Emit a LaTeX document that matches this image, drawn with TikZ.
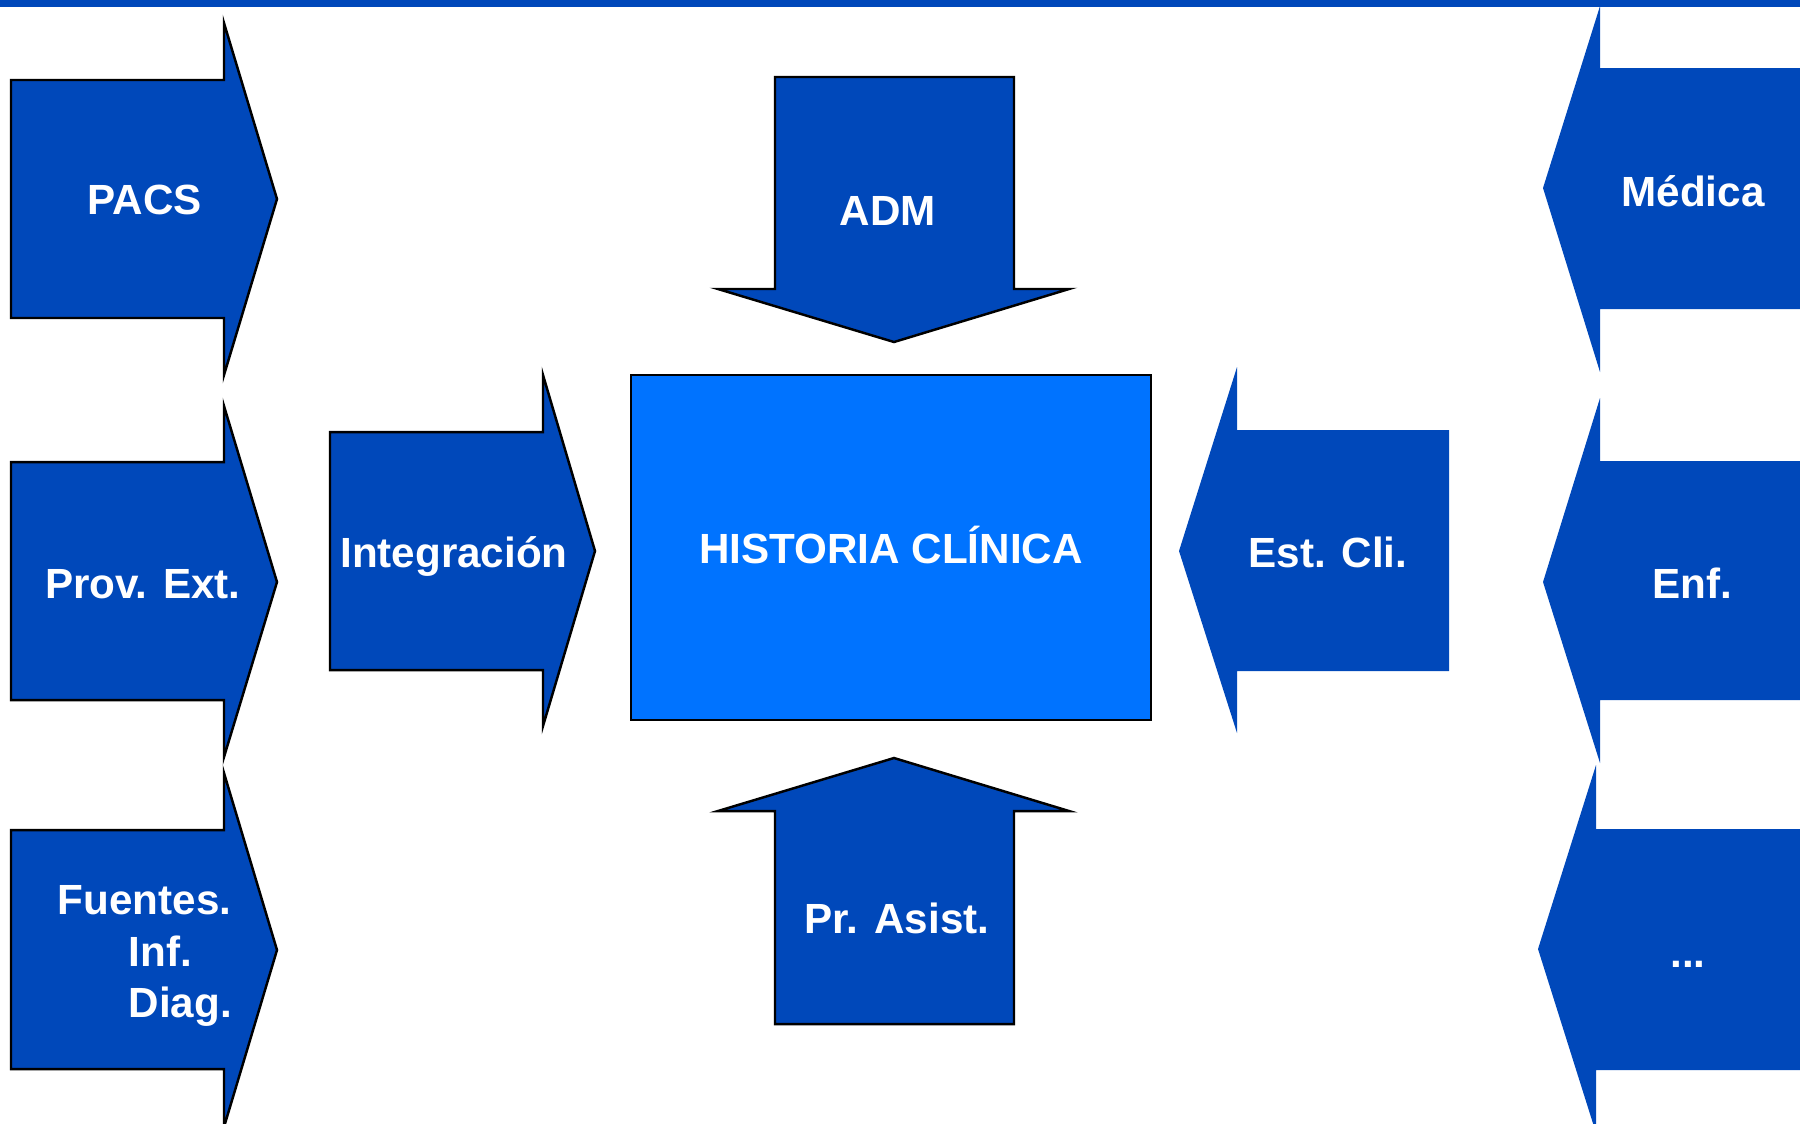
\documentclass[tikz,border=0pt]{standalone}
\usepackage{fontspec}
\setmainfont{Liberation Sans}
\definecolor{arrowblue}{RGB}{0,72,186}
\definecolor{hcblue}{RGB}{0,115,255}

\begin{document}
\begin{tikzpicture}[
		x=0.01cm,
		y=-0.01cm,
		blockarrow/.style={
			fill=arrowblue,
			draw=black,
			line width=0.7pt,
			line join=miter
		},
		barearrow/.style={
			fill=arrowblue
		},
		txtbase/.style={
			text=white,
			font=\bfseries\fontsize{12pt}{14.65pt}\selectfont,
			inner sep=0pt
		},
		txt/.style={
			txtbase,
			text height=0.3cm,
			text depth=0pt
		}
		]
		\clip (0,0) rectangle (1800,1123);
		\fill[white] (0,0) rectangle (1800,1123);
		\fill[arrowblue] (0,0) rectangle (1800,6.5);
		
		% left column
		\draw[blockarrow] (11,80) -- (224,80) -- (224,23) -- (277,199) -- (224,375) -- (224,318) -- (11,318) -- cycle;
		\node[txt] (PACS) at (145,199) {PACS};
		\draw[blockarrow] (11,462) -- (224,462) -- (224,406) -- (277,582) -- (224,757) -- (224,700) -- (11,700) -- cycle;
		\node[txt] (PROV) at (143,583) {Prov. Ext.};
		\draw[blockarrow] (11,830) -- (224,830) -- (224,773) -- (277,950) -- (224,1127) -- (224,1069) -- (11,1069) -- cycle;
		\node[txtbase,align=left,anchor=north west] (FUENTES) at (57,885) {Fuentes.\\\hspace*{0.71cm}Inf.\\\hspace*{0.71cm}Diag.};
		
		\draw[blockarrow] (330,432) -- (543,432) -- (543,375) -- (595,551) -- (543,726) -- (543,670) -- (330,670) -- cycle;
		\node[txt] (INT) at (454,552) {Integración};
		
		% centre
		\draw[fill=hcblue,draw=black,line width=0.7pt] (631,375) rectangle (1151,720);
		\node[txt] (HC) at (891,548) {HISTORIA CLÍNICA};
		
		\draw[blockarrow] (775,77) -- (1014,77) -- (1014,289) -- (1069,289) -- (894,342) -- (718,289) -- (775,289) -- cycle;
		\node[txt] (ADM) at (888,210) {ADM};
		\draw[blockarrow] (775,1024) -- (775,811) -- (718,811) -- (894,758) -- (1069,811) -- (1014,811) -- (1014,1024) -- cycle;
		\node[txt] (ASIST) at (897,918) {Pr. Asist.};
		
		\fill[barearrow] (1449,430) -- (1237,430) -- (1237,367) -- (1179,551) -- (1237,733) -- (1237,671) -- (1449,671) -- cycle;
		\node[txt] (EST) at (1328,552) {Est. Cli.};
		
		% right column
		\fill[barearrow] (1810,68) -- (1600,68) -- (1600,6) -- (1543,188) -- (1600,372) -- (1600,309) -- (1810,309) -- cycle;
		\node[txt] (MED) at (1693,191) {Médica};
		\fill[barearrow] (1810,461) -- (1600,461) -- (1600,398) -- (1543,582) -- (1600,763) -- (1600,700) -- (1810,700) -- cycle;
		\node[txt] (ENF) at (1692,583) {Enf.};
		\fill[barearrow] (1810,829) -- (1596,829) -- (1596,765) -- (1538,949) -- (1596,1133) -- (1596,1070) -- (1810,1070) -- cycle;
		\node[txt] (MORE) at (1688,952) {...};
\end{tikzpicture}
\end{document}
